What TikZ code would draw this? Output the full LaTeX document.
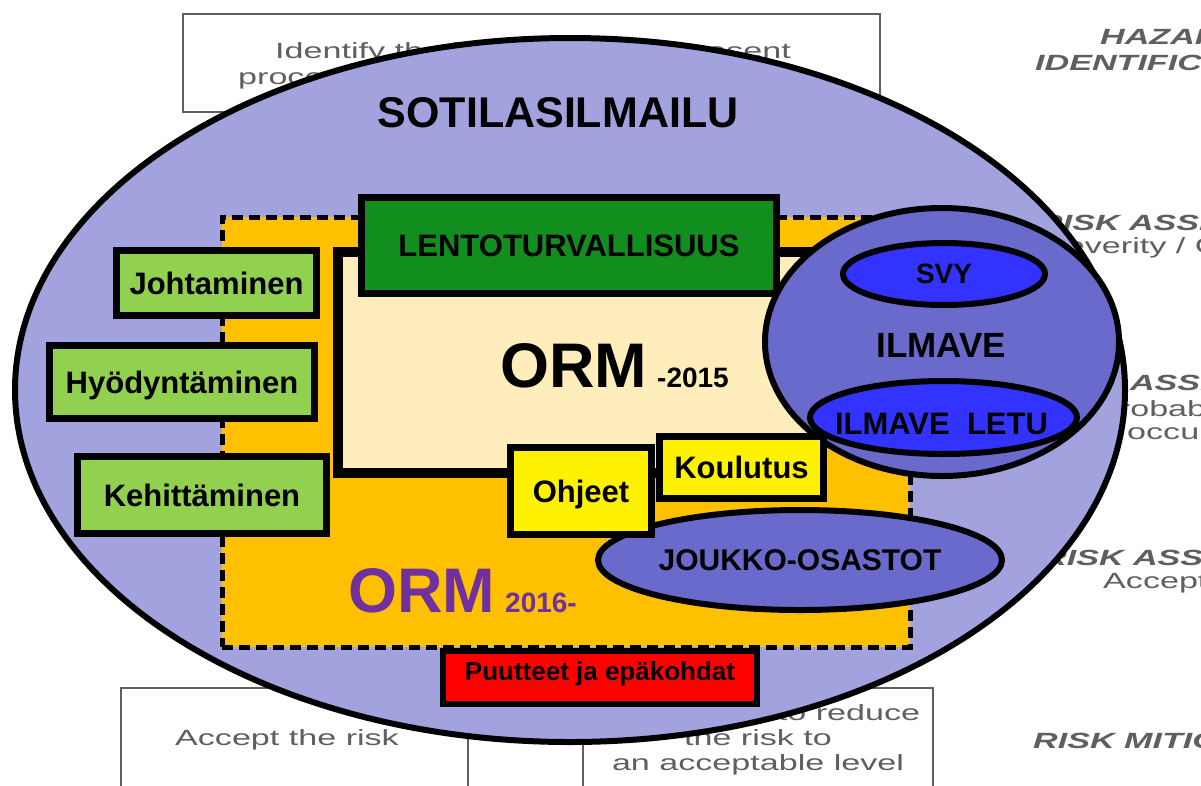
\documentclass[tikz,border=0pt]{standalone}
\usepackage{fontspec}
\setmainfont{Liberation Sans}
\newfontfamily\chartfont[FakeStretch=1.55]{Liberation Sans}
\usetikzlibrary{shapes.geometric}

\definecolor{skyoval}{RGB}{162,162,222}
\definecolor{unitoval}{RGB}{106,106,204}
\definecolor{brightoval}{RGB}{51,51,255}
\definecolor{ormorange}{RGB}{255,192,0}
\definecolor{creamfill}{RGB}{255,237,187}
\definecolor{flightgreen}{RGB}{17,142,30}
\definecolor{leafgreen}{RGB}{146,208,80}
\definecolor{ormpurple}{RGB}{112,48,160}
\definecolor{chartgray}{RGB}{95,95,95}

\tikzset{
    label-font/.style = {font=\bfseries\fontsize{#1}{#1}\selectfont, text depth=0pt},
    main-oval/.style = {draw=black, fill=skyoval, ellipse, line width=6pt, inner sep=0pt},
    unit-oval/.style = {draw=black, fill=unitoval, ellipse, line width=6pt, inner sep=0pt, label-font=30},
    sub-oval/.style = {draw=black, fill=brightoval, ellipse, line width=6pt, inner sep=0pt, label-font=28},
    thick-box/.style = {draw=black, rectangle, line width=7pt, inner sep=0pt, label-font=31},
    task-box/.style = {thick-box, fill=leafgreen},
    guide-box/.style = {thick-box, fill=yellow},
    orm-frame/.style = {draw=black, fill=ormorange, rectangle, line width=5pt, dash pattern=on 11pt off 6pt, inner sep=0pt},
    faint-line/.style = {draw=chartgray, line width=2.5pt},
    faint-head/.style = {text=chartgray, font=\chartfont\bfseries\itshape\fontsize{22}{22}\selectfont, anchor=base west, inner sep=0pt},
    faint-text/.style = {text=chartgray, font=\chartfont\fontsize{22}{22}\selectfont, anchor=base west, inner sep=0pt},
}

\begin{document}
\begin{tikzpicture}[x=1pt, y=-1pt]
\useasboundingbox (0,0) rectangle (1201,785);
\clip (0,0) rectangle (1201,785);
\fill[white] (0,0) rectangle (1201,785);

% risk chart behind the diagram
\draw[faint-line] (183,14) rectangle (880,112);
\node[faint-text] (identify) at (275,58) {Identify the hazards of the present};
\node[faint-text] (process) at (238,84) {process and operation};
\node[faint-head] (hazard) at (1100,44) {HAZARD};
\node[faint-head] (identification) at (1035,70) {IDENTIFICATION};
\node[faint-head] (severity-head) at (1038,230) {RISK ASSESSMENT};
\node[faint-text] (severity) at (1043,253) {Severity / Consequence};
\node[faint-head] (probability-head) at (1039,390) {RISK ASSESSMENT};
\node[faint-text] (probability) at (1096,416) {Probability of};
\node[faint-text] (occurrence) at (1127,439) {occurrence};
\node[faint-head] (accept-head) at (1042,565) {RISK ASSESSMENT};
\node[faint-text] (acceptability) at (1103,588) {Acceptability};
\node[faint-head] (mitigation) at (1033,748) {RISK MITIGATION};
\draw[faint-line] (121,688) rectangle (468,800);
\draw[faint-line] (583,688) rectangle (933,800);
\node[faint-text, anchor=base] (accept) at (287,745) {Accept the risk};
\node[faint-text, anchor=base] (reduce) at (758,720) {Take action to reduce};
\node[faint-text, anchor=base] (risk-to) at (758,745) {the risk to};
\node[faint-text, anchor=base] (level) at (758,770) {an acceptable level};

% military aviation
\node[main-oval, minimum width=1110pt, minimum height=704pt] (sotilas) at (570,390) {};
\node[label-font=43, inner sep=0pt] (title) at (558,112) {SOTILASILMAILU};

% ORM areas
\node[orm-frame, minimum width=688pt, minimum height=430pt] (orm-new) at (566,432) {};
\node[thick-box, fill=creamfill, line width=10pt, minimum width=477pt, minimum height=221pt] (orm-old) at (576.5,362.5) {};
\node[anchor=base west, inner sep=0pt, font=\bfseries] (orm-old-label) at (500,387)
    {{\fontsize{63}{63}\selectfont ORM}\hspace{10pt}{\fontsize{28}{28}\selectfont -2015}};
\node[thick-box, fill=flightgreen, minimum width=415pt, minimum height=96pt] (lento) at (569,245.5) {LENTOTURVALLISUUS};

\node[task-box, minimum width=200pt, minimum height=65pt] (johtaminen) at (216.5,283) {Johtaminen};
\node[task-box, minimum width=265pt, minimum height=73pt] (hyodyntaminen) at (182,382) {Hyödyntäminen};
\node[task-box, minimum width=249pt, minimum height=77pt] (kehittaminen) at (202,495) {Kehittäminen};

% air force
\node[unit-oval, minimum width=354pt, minimum height=268pt] (ilmave) at (942,342) {};
\node[sub-oval, minimum width=202pt, minimum height=62pt] (svy) at (944,274) {SVY};
\node[sub-oval, minimum width=267pt, minimum height=73pt] (letu) at (943.5,417.5) {};
\node[label-font=35, inner sep=0pt] (ilmave-label) at (941.5,345.5) {ILMAVE};
\node[label-font=31, inner sep=0pt] (letu-label) at (941.5,423.5) {ILMAVE~~LETU};

\node[unit-oval, minimum width=404pt, minimum height=100pt] (joukko) at (800,560) {JOUKKO-OSASTOT};
\node[guide-box, minimum width=141pt, minimum height=87pt] (ohjeet) at (581,491) {Ohjeet};
\node[guide-box, minimum width=164pt, minimum height=62pt] (koulutus) at (741.5,467.5) {Koulutus};

\node[anchor=base west, inner sep=0pt, text=ormpurple, font=\bfseries] (orm-new-label) at (348,612)
    {{\fontsize{63}{63}\selectfont ORM}\hspace{10pt}{\fontsize{28}{28}\selectfont 2016-}};

\node[thick-box, fill=red, line width=6pt, minimum width=314pt, minimum height=53pt] (puutteet) at (600,677.5) {};
\node[label-font=26, inner sep=0pt] (puutteet-label) at (600,671) {Puutteet ja epäkohdat};
\end{tikzpicture}
\end{document}
